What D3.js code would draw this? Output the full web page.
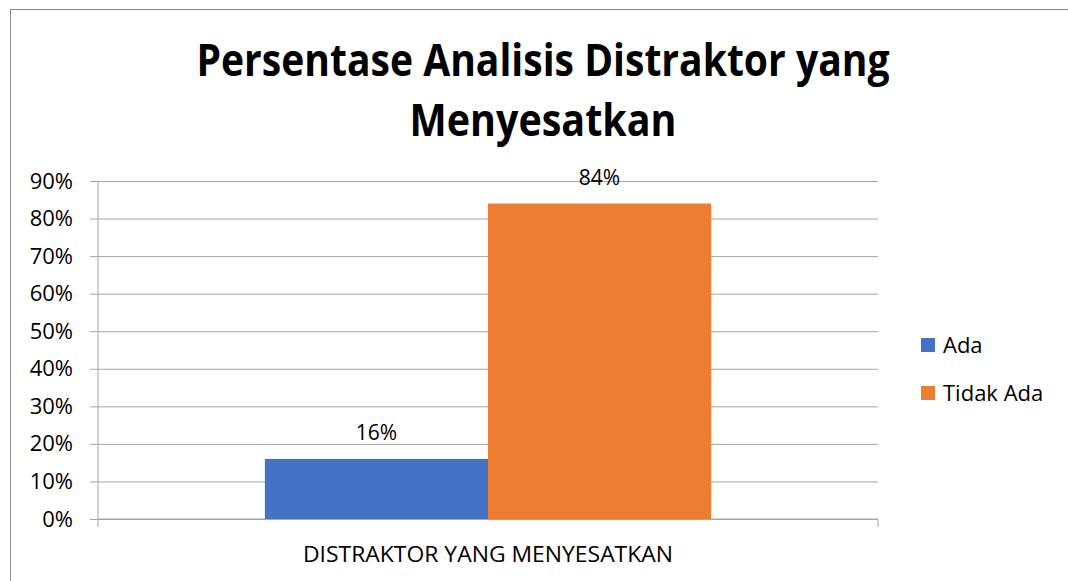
<!DOCTYPE html>
<html>
<head>
<meta charset="utf-8">
<script src="https://cdn.jsdelivr.net/npm/d3@7"></script>
<style>
  body { margin: 0; background: #fff; }
  text { font-family: "Open Sans", "Noto Sans", sans-serif; fill: #000; }
</style>
</head>
<body>
<div id="chart"></div>
<script>
// chart data
const categories = ['DISTRAKTOR YANG MENYESATKAN'];
const seriesNames = ['Ada', 'Tidak Ada'];
const seriesValues = [[0.16], [0.84]];
const yTicks = [0, 0.1, 0.2, 0.3, 0.4, 0.5, 0.6, 0.7, 0.8, 0.9];
const titleLines = ['Persentase Analisis Distraktor yang', 'Menyesatkan'];
const colors = ['#4472C4', '#ED7D31'];

const W = 1068, H = 581;
const margin = { top: 181, right: 190, bottom: 62, left: 98 };
const width = W - margin.left - margin.right;   // 780
const height = H - margin.top - margin.bottom;  // 338

const svg = d3.select('#chart')
  .append('svg')
  .attr('width', W)
  .attr('height', H);

// outer chart border (only top and left visible in the frame)
svg.append('rect')
  .attr('x', 10.5).attr('y', 9.5)
  .attr('width', W + 20).attr('height', H + 20)
  .attr('fill', 'none')
  .attr('stroke', '#8c8c8c')
  .attr('stroke-width', 1);

// title (squeezed a little, the original font is narrower)
const titleWidths = [693, 267];
svg.append('g')
  .selectAll('text')
  .data(titleLines)
  .enter()
  .append('text')
  .attr('x', 543)
  .attr('y', (d, i) => 76 + i * 60)
  .attr('text-anchor', 'middle')
  .attr('font-size', 44)
  .attr('font-weight', 'bold')
  .attr('textLength', (d, i) => titleWidths[i])
  .attr('lengthAdjust', 'spacingAndGlyphs')
  .text(d => d);

const g = svg.append('g')
  .attr('transform', `translate(${margin.left},${margin.top})`);

const y = d3.scaleLinear()
  .domain([0, 0.9])
  .range([height, 0]);

const x0 = d3.scaleBand()
  .domain(categories)
  .range([0, width])
  .paddingInner(0)
  .paddingOuter(0.374);

const x1 = d3.scaleBand()
  .domain(seriesNames)
  .range([0, x0.bandwidth()]);

// grid lines + y axis
g.append('g')
  .attr('class', 'y-axis')
  .call(d3.axisLeft(y)
    .tickValues(yTicks)
    .tickSize(-width - 8)
    .tickPadding(25)
    .tickFormat(d3.format('.0%')))
  .call(a => a.select('.domain').remove())
  .call(a => a.selectAll('.tick line')
    .attr('x1', -8)
    .attr('x2', width)
    .attr('stroke', '#a6a6a6'))
  .call(a => a.selectAll('.tick text')
    .attr('font-size', 22)
    .attr('fill', '#000'));

// vertical axis line
g.append('line')
  .attr('x1', 0).attr('x2', 0)
  .attr('y1', 0).attr('y2', height + 8)
  .attr('stroke', '#a6a6a6');

// bottom axis
g.append('g')
  .attr('transform', `translate(0,${height})`)
  .call(d3.axisBottom(x0).tickSize(0).tickPadding(28))
  .call(a => a.select('.domain').attr('stroke', '#a6a6a6')
    .attr('d', `M0,0H${width}`))
  .call(a => a.selectAll('.tick text')
    .attr('font-size', 21)
    .attr('textLength', 370)
    .attr('lengthAdjust', 'spacingAndGlyphs')
    .attr('fill', '#000'));

g.append('line')
  .attr('x1', width).attr('x2', width)
  .attr('y1', height).attr('y2', height + 8)
  .attr('stroke', '#a6a6a6');

// bars
const groups = g.selectAll('.cat')
  .data(categories)
  .enter()
  .append('g')
  .attr('transform', d => `translate(${x0(d)},0)`);

seriesNames.forEach((s, si) => {
  groups.append('rect')
    .attr('x', x1(s))
    .attr('y', (d, ci) => y(seriesValues[si][ci]))
    .attr('width', x1.bandwidth())
    .attr('height', (d, ci) => height - y(seriesValues[si][ci]))
    .attr('fill', colors[si]);

  groups.append('text')
    .attr('x', x1(s) + x1.bandwidth() / 2)
    .attr('y', (d, ci) => y(seriesValues[si][ci]) - 19)
    .attr('text-anchor', 'middle')
    .attr('font-size', 21)
    .text((d, ci) => d3.format('.0%')(seriesValues[si][ci]));
});

// legend
const legend = svg.append('g')
  .attr('transform', 'translate(921,338)');

const item = legend.selectAll('.item')
  .data(seriesNames)
  .enter()
  .append('g')
  .attr('transform', (d, i) => `translate(0,${i * 48})`);

item.append('rect')
  .attr('width', 14).attr('height', 14)
  .attr('fill', (d, i) => colors[i]);

item.append('text')
  .attr('x', 22)
  .attr('y', 7)
  .attr('dy', '0.35em')
  .attr('font-size', 22)
  .text(d => d);
</script>
</body>
</html>
